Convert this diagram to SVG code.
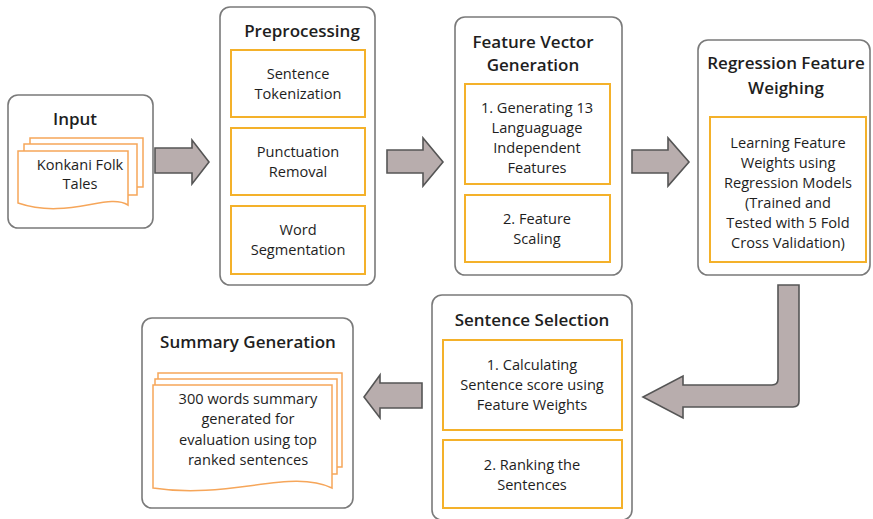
<svg xmlns="http://www.w3.org/2000/svg" width="873" height="519" viewBox="0 0 873 519">
<style>
.box{fill:#fff;stroke:#7a7a7a;stroke-width:1.6}
.inner{fill:#fff;stroke:#f4b12a;stroke-width:2}
.doc{fill:#fff;stroke:#f6a65a;stroke-width:1.5}
.arrow{fill:#b8adad;stroke:#555;stroke-width:1.6;stroke-linejoin:miter}
.t{font-family:"Open Sans","Noto Sans","DejaVu Sans",sans-serif;fill:#1e1e1e;text-anchor:middle}
.title{font-size:17px;font-weight:600}
.body{font-size:14.6px;font-weight:500}
</style>
<rect width="873" height="519" fill="#fff"/>
<g id="connectors">
<path class="arrow" d="M155,148 H192 V140 L209,162 L192,184 V173 H155 Z"/>
<path class="arrow" d="M387,150 H423 V138 L443,162 L423,186 V173 H387 Z"/>
<path class="arrow" d="M632,150 H668 V138 L689,162 L668,186 V173 H632 Z"/>
<path class="arrow" d="M778,285 H799 V401 Q799,407 793,407 H683 V418 L643,397 L683,376 V385 H772 Q778,385 778,379 Z"/>
<path class="arrow" d="M422,383 V408 H380 V418 L364,397 L380,375 V383 Z"/>
</g>
<g id="input">
<rect class="box" x="8" y="95" width="145" height="133" rx="10"/>
<text class="t title" x="75" y="125">Input</text>
<path class="doc" d="M30,138 H143 V187 H30 Z"/>
<path class="doc" d="M24,144 H137 V195 H24 Z"/>
<path class="doc" d="M18,151 H128 V205 C108,192 68,220 18,203 Z"/>
<text class="t body" x="80" y="170">Konkani Folk</text>
<text class="t body" x="80" y="189">Tales</text>
</g>
<g id="preprocessing">
<rect class="box" x="220" y="7" width="155" height="278" rx="10"/>
<text class="t title" x="302" y="37">Preprocessing</text>
<rect class="inner" x="231" y="50" width="134" height="67"/>
<text class="t body" x="298" y="79">Sentence</text>
<text class="t body" x="298" y="99">Tokenization</text>
<rect class="inner" x="231" y="128" width="134" height="67"/>
<text class="t body" x="298" y="157">Punctuation</text>
<text class="t body" x="298" y="177">Removal</text>
<rect class="inner" x="231" y="206" width="134" height="68"/>
<text class="t body" x="298" y="235">Word</text>
<text class="t body" x="298" y="255">Segmentation</text>
</g>
<g id="feature-vector">
<rect class="box" x="455" y="17" width="167" height="258" rx="10"/>
<text class="t title" x="533" y="48">Feature Vector</text>
<text class="t title" x="533" y="71">Generation</text>
<rect class="inner" x="465" y="84" width="145" height="100"/>
<text class="t body" x="537" y="113">1. Generating 13</text>
<text class="t body" x="537" y="133">Languaguage</text>
<text class="t body" x="537" y="153">Independent</text>
<text class="t body" x="537" y="173">Features</text>
<rect class="inner" x="465" y="195" width="145" height="67"/>
<text class="t body" x="537" y="224">2. Feature</text>
<text class="t body" x="537" y="244">Scaling</text>
</g>
<g id="regression">
<rect class="box" x="698" y="40" width="172" height="235" rx="10"/>
<text class="t title" x="786" y="69">Regression Feature</text>
<text class="t title" x="786" y="94">Weighing</text>
<rect class="inner" x="710" y="117" width="156" height="145"/>
<text class="t body" x="788" y="148">Learning Feature</text>
<text class="t body" x="788" y="168">Weights using</text>
<text class="t body" x="788" y="188">Regression Models</text>
<text class="t body" x="788" y="208">(Trained and</text>
<text class="t body" x="788" y="228">Tested with 5 Fold</text>
<text class="t body" x="788" y="248">Cross Validation)</text>
</g>
<g id="sentence-selection">
<rect class="box" x="432" y="295" width="200" height="225" rx="10"/>
<text class="t title" x="532" y="326">Sentence Selection</text>
<rect class="inner" x="443" y="340" width="179" height="90"/>
<text class="t body" x="532" y="370">1. Calculating</text>
<text class="t body" x="532" y="390">Sentence score using</text>
<text class="t body" x="532" y="410">Feature Weights</text>
<rect class="inner" x="443" y="440" width="179" height="68"/>
<text class="t body" x="532" y="470">2. Ranking the</text>
<text class="t body" x="532" y="490">Sentences</text>
</g>
<g id="summary">
<rect class="box" x="142" y="318" width="211" height="190" rx="10"/>
<text class="t title" x="248" y="348">Summary Generation</text>
<path class="doc" d="M158,373 H342 V467 H158 Z"/>
<path class="doc" d="M155,379 H337 V474 H155 Z"/>
<path class="doc" d="M153,385 H332 V488 C290,468 230,500 153,488 Z"/>
<text class="t body" x="248" y="404">300 words summary</text>
<text class="t body" x="248" y="424">generated for</text>
<text class="t body" x="248" y="445">evaluation using top</text>
<text class="t body" x="248" y="465">ranked sentences</text>
</g>
</svg>
